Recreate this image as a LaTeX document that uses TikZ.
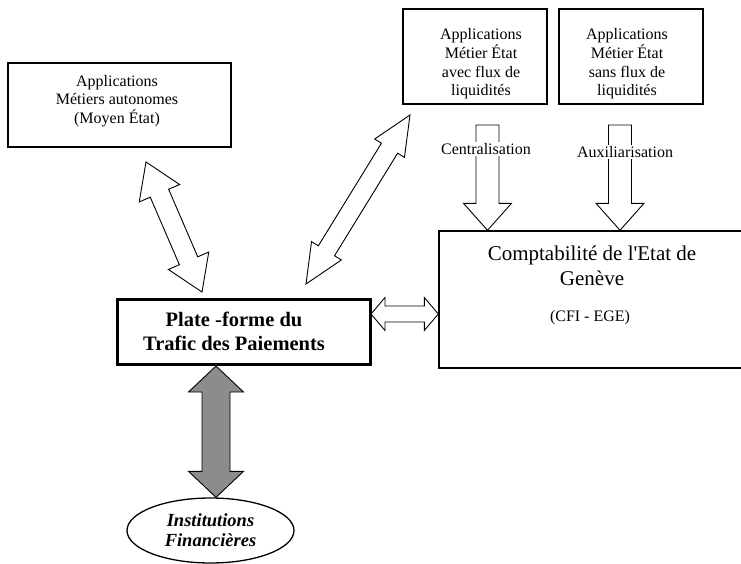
\documentclass[tikz,border=0pt]{standalone}
\usepackage{fontspec}
\setmainfont{Liberation Serif}[Ligatures=TeXOff]
\usetikzlibrary{calc,shapes.geometric}

\definecolor{flowgray}{RGB}{140,140,140}

% block arrows: [options]{from}{to}{head length}{head half width}{shaft half width}
\newcommand\dblarrow[6][]{%
  \draw[#1] (#2)
    -- ($(#2)!#4!(#3)!#5!90:(#3)$) -- ($(#2)!#4!(#3)!#6!90:(#3)$)
    -- ($(#3)!#4!(#2)!#6!-90:(#2)$) -- ($(#3)!#4!(#2)!#5!-90:(#2)$)
    -- (#3)
    -- ($(#3)!#4!(#2)!#5!90:(#2)$) -- ($(#3)!#4!(#2)!#6!90:(#2)$)
    -- ($(#2)!#4!(#3)!#6!-90:(#3)$) -- ($(#2)!#4!(#3)!#5!-90:(#3)$)
    -- cycle;}
\newcommand\sglarrow[6][]{%
  \draw[#1] ($(#2)!#6!90:(#3)$)
    -- ($(#3)!#4!(#2)!#6!-90:(#2)$) -- ($(#3)!#4!(#2)!#5!-90:(#2)$)
    -- (#3)
    -- ($(#3)!#4!(#2)!#5!90:(#2)$) -- ($(#3)!#4!(#2)!#6!90:(#2)$)
    -- ($(#2)!#6!-90:(#3)$)
    -- cycle;}

\begin{document}
\begin{tikzpicture}[x=1pt, y=-1pt,
  box/.style={draw, line width=1.4pt, inner sep=0pt},
  txt/.style={align=center, inner sep=0pt, font=\fontsize{16}{18.7}\selectfont},
  flow/.style={line width=0.9pt, fill=white},
  tag/.style={fill=white, inner sep=1pt, font=\fontsize{16}{18}\selectfont}]

  \useasboundingbox (0,0) rectangle (741,564);
  \clip (0,0) rectangle (741,564);

  % boxes
  \node[box, minimum width=223pt, minimum height=84pt] (auto) at (119.5,105) {};
  \node[txt] (autotxt) at (117,101) {Applications\\Métiers autonomes\\(Moyen État)};

  \node[box, minimum width=144pt, minimum height=95pt] (avec) at (475,56.5) {};
  \node[txt] (avectxt) at (481,64) {Applications\\Métier État\\avec flux de\\liquidités};

  \node[box, minimum width=144pt, minimum height=95pt] (sans) at (631,56.5) {};
  \node[txt] (sanstxt) at (627,64) {Applications\\Métier État\\sans flux de\\liquidités};

  \node[box, minimum width=340pt, minimum height=137pt] (compta) at (609,299.5) {};
  \node[txt, font=\fontsize{21}{25}\selectfont] (comptatxt) at (592,265.5) {Comptabilité de l'Etat de\\Genève};
  \node[txt] (cfi) at (590,318) {(CFI - EGE)};

  \node[box, line width=3pt, minimum width=253pt, minimum height=65pt] (plate) at (243.5,331.5) {};
  \node[txt, font=\fontsize{20.5}{24}\selectfont\bfseries] (platetxt) at (234,331) {Plate -forme du\\Trafic des Paiements};

  \node[draw, ellipse, line width=1.3pt, inner sep=0pt, minimum width=167pt, minimum height=65pt,
        align=center, font=\fontsize{18.5}{20}\selectfont\bfseries\itshape] (financ) at (210.5,530.5) {Institutions\\Financières};

  % arrows
  \coordinate (autoA) at (146,162);
  \coordinate (autoB) at (202,292);
  \dblarrow[flow]{autoA}{autoB}{34pt}{22pt}{10pt}

  \coordinate (longA) at (410,115);
  \coordinate (longB) at (306,284);
  \dblarrow[flow]{longA}{longB}{39pt}{17.5pt}{9.5pt}

  \coordinate (pfA) at (371,314);
  \dblarrow[flow]{pfA}{pfA -| compta.west}{14pt}{16.5pt}{8pt}

  \coordinate (grayA) at (216,366);
  \dblarrow[line width=0.9pt, fill=flowgray]{grayA}{grayA |- financ.north}{26pt}{27.5pt}{14pt}

  \coordinate (centA) at (487.5,125);
  \sglarrow[flow]{centA}{centA |- compta.north}{27pt}{24pt}{11.5pt}
  \node[tag] (central) at (486,149) {Centralisation};

  \coordinate (auxA) at (620,125);
  \sglarrow[flow]{auxA}{auxA |- compta.north}{27pt}{24pt}{11.5pt}
  \node[tag] (auxil) at (625,152) {Auxiliarisation};

\end{tikzpicture}
\end{document}
